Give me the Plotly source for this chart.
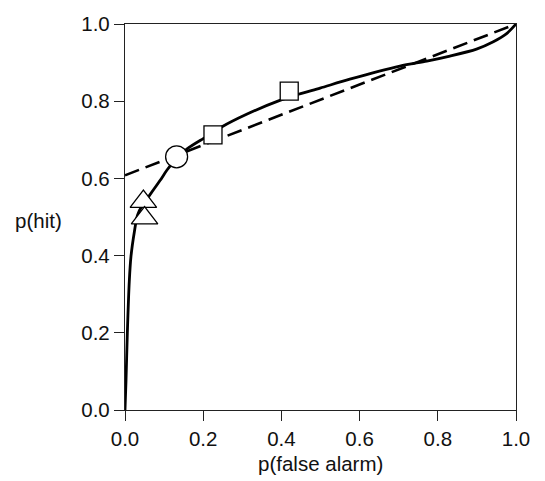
import plotly.graph_objects as go

# Model ROC curve
curve_x = [0.0, 0.0026, 0.006, 0.011, 0.0153, 0.024, 0.032, 0.045, 0.064, 0.09, 0.107, 0.132,
           0.158, 0.2, 0.225, 0.247, 0.311, 0.396, 0.444, 0.499, 0.575, 0.703, 0.772, 0.831,
           0.899, 0.942, 0.976, 1.0]
curve_y = [0.0, 0.077, 0.2, 0.334, 0.398, 0.462, 0.505, 0.532, 0.558, 0.595, 0.621, 0.652,
           0.676, 0.703, 0.718, 0.733, 0.766, 0.802, 0.818, 0.834, 0.857, 0.891, 0.904, 0.917,
           0.935, 0.954, 0.975, 1.0]

# Dashed linear ROC
line_x = [0.0, 1.0]
line_y = [0.608, 1.0]

# Data points
tri_x = [0.047, 0.050]
tri_y = [0.540, 0.497]
circ_x = [0.132]
circ_y = [0.656]
sq_x = [0.225, 0.420]
sq_y = [0.713, 0.826]

FONT = "Liberation Sans, Arial, Helvetica, sans-serif"

fig = go.Figure()
fig.add_trace(go.Scatter(x=line_x, y=line_y, mode="lines",
                         line=dict(color="black", width=2.6, dash="15px,7px"),
                         showlegend=False, cliponaxis=False))
fig.add_trace(go.Scatter(x=curve_x, y=curve_y, mode="lines",
                         line=dict(color="black", width=2.8, shape="spline", smoothing=0.8),
                         showlegend=False, cliponaxis=False))
marker_line = dict(color="black", width=1.3)
fig.add_trace(go.Scatter(x=tri_x, y=tri_y, mode="markers",
                         marker=dict(symbol="triangle-up", size=23, color="white", line=marker_line),
                         showlegend=False, cliponaxis=False))
fig.add_trace(go.Scatter(x=circ_x, y=circ_y, mode="markers",
                         marker=dict(symbol="circle", size=22, color="white", line=marker_line),
                         showlegend=False, cliponaxis=False))
fig.add_trace(go.Scatter(x=sq_x, y=sq_y, mode="markers",
                         marker=dict(symbol="square", size=18, color="white", line=marker_line),
                         showlegend=False, cliponaxis=False))

tickvals = [0.0, 0.2, 0.4, 0.6, 0.8, 1.0]
ticktext = ["0.0", "0.2", "0.4", "0.6", "0.8", "1.0"]
axis_common = dict(range=[0, 1], tickvals=tickvals, ticktext=ticktext,
                   showgrid=False, zeroline=False, showline=True, mirror=True,
                   linecolor="#222", linewidth=1.3, ticks="outside", ticklen=10,
                   tickwidth=1.3, tickcolor="#222",
                   tickfont=dict(family=FONT, size=20.5, color="#111"))

fig.update_layout(
    width=545, height=481,
    margin=dict(l=125, r=29, t=21, b=71),
    paper_bgcolor="white", plot_bgcolor="white",
    xaxis=axis_common,
    yaxis=axis_common,
    annotations=[
        dict(text="p(false alarm)", x=0.5, y=-0.139, xref="paper", yref="paper",
             xanchor="center", yanchor="middle", showarrow=False,
             font=dict(family=FONT, size=20.5, color="#111")),
        dict(text="p(hit)", x=-0.22, y=0.49, xref="paper", yref="paper",
             xanchor="center", yanchor="middle", showarrow=False,
             font=dict(family=FONT, size=20.5, color="#111")),
    ],
)

fig.write_html("out.html")
